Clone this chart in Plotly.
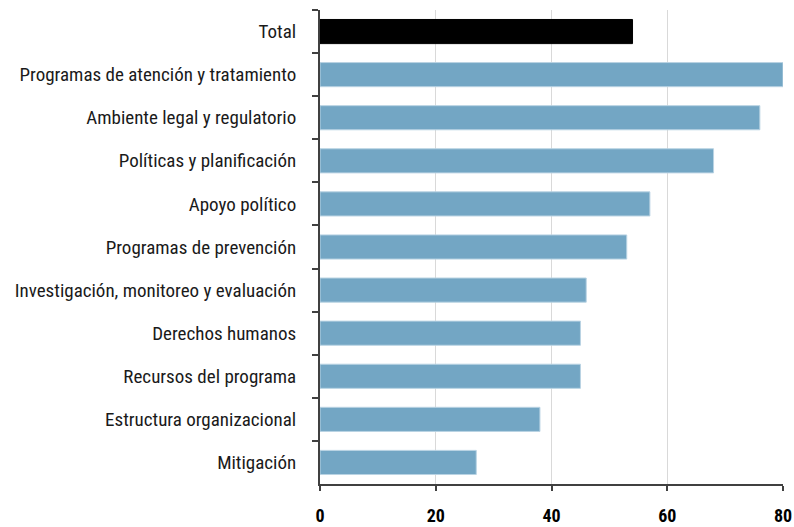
import plotly.graph_objects as go

# Categories listed top to bottom
categories = [
    "Total",
    "Programas de atención y tratamiento",
    "Ambiente legal y regulatorio",
    "Políticas y planificación",
    "Apoyo político",
    "Programas de prevención",
    "Investigación, monitoreo y evaluación",
    "Derechos humanos",
    "Recursos del programa",
    "Estructura organizacional",
    "Mitigación",
]
values = [54, 80, 76, 68, 57, 53, 46, 45, 45, 38, 27]
bar_colors = ["#000000"] + ["#73a6c4"] * (len(categories) - 1)
edge_colors = ["#000000"] + ["#b9d3e3"] * (len(categories) - 1)
x_ticks = [0, 20, 40, 60, 80]

FONT = "Roboto Condensed, Liberation Sans Narrow, Roboto, sans-serif"

fig = go.Figure(
    go.Bar(
        x=values,
        y=categories,
        orientation="h",
        marker=dict(color=bar_colors, line=dict(color=edge_colors, width=1)),
        width=0.56,
        hoverinfo="x+y",
    )
)

fig.update_layout(
    width=794,
    height=527,
    margin=dict(l=320, r=11, t=10, b=43, autoexpand=False),
    paper_bgcolor="white",
    plot_bgcolor="white",
    showlegend=False,
    font=dict(family=FONT, size=19, color="#1a1a1a"),
)

fig.update_xaxes(
    range=[0, 80],
    tickvals=x_ticks,
    ticktext=[f"<b>{v}</b>" for v in x_ticks],
    showgrid=True,
    gridcolor="#d9d9d9",
    gridwidth=1,
    showline=True,
    linecolor="#404040",
    linewidth=2,
    ticks="outside",
    ticklen=5,
    tickcolor="#404040",
    tickwidth=1.5,
    ticklabelstandoff=9,
    ticklabeloverflow="allow",
    automargin=False,
    tickfont=dict(family=FONT, size=18, color="#000000"),
    zeroline=False,
    fixedrange=True,
)

fig.update_yaxes(
    categoryorder="array",
    categoryarray=categories,
    autorange="reversed",
    showline=True,
    linecolor="#404040",
    linewidth=2,
    ticks="outside",
    tickson="boundaries",
    ticklen=6,
    tickcolor="#404040",
    tickwidth=1.5,
    ticklabelstandoff=18,
    automargin=False,
    showgrid=False,
    tickfont=dict(family=FONT, size=19, color="#1a1a1a"),
    fixedrange=True,
)

fig.write_html("out.html")
